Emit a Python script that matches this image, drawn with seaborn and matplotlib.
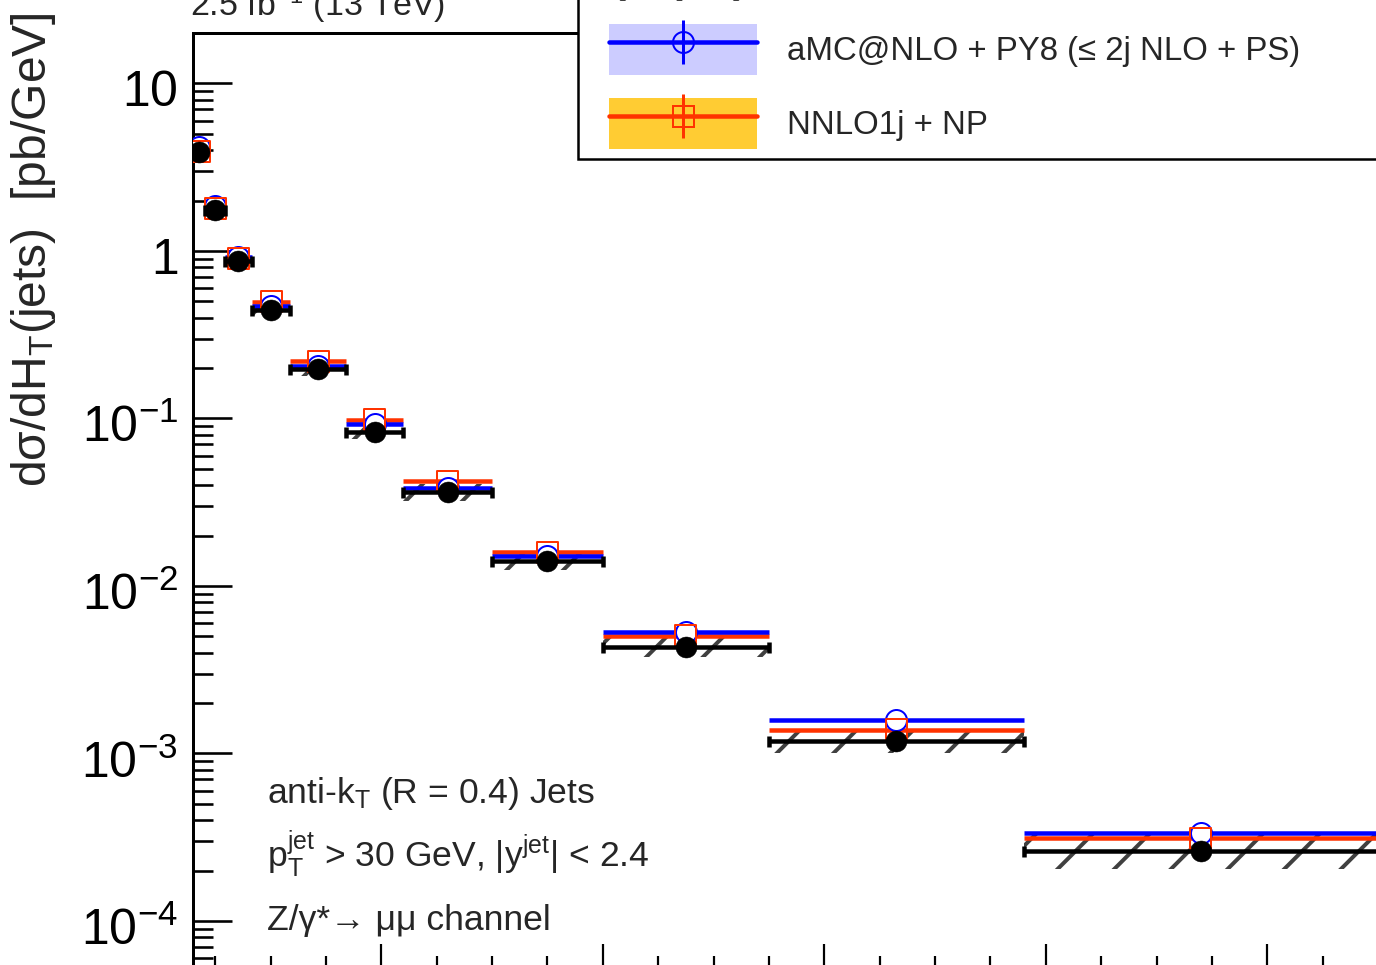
"""
CMS-style Z+jets HT differential cross section (upper panel only, cropped).
Data vs aMC@NLO + PY8 and NNLO1j + NP, log y-axis.
"""

import numpy as np
import pandas as pd
import matplotlib.pyplot as plt
import matplotlib.ticker as ticker
import matplotlib.transforms as mtransforms
from matplotlib.patches import Patch, Rectangle
from matplotlib.lines import Line2D
import seaborn as sns

# ── DATA ──────────────────────────────────────────────────
BIN_EDGES = [30, 41, 59, 83, 118, 168, 220, 300, 400, 550, 780, 1100]   # HT [GeV]

DATA_XS = [3.88, 1.745, 0.866, 0.441, 0.196, 0.0825, 0.0362, 0.0141,
           0.00432, 0.00119, 0.000260]                                   # pb/GeV
DATA_REL_UNC = [0.028, 0.028, 0.042, 0.071, 0.096, 0.101, 0.124, 0.139,
                0.147, 0.179, 0.28]
AMC_XS = [4.15, 1.844, 0.915, 0.469, 0.207, 0.0928, 0.0387, 0.0150,
          0.00528, 0.00158, 0.000335]
NNLO_XS = [3.93, 1.794, 0.902, 0.496, 0.219, 0.0980, 0.0421, 0.0159,
           0.00503, 0.00139, 0.000311]

Y_TICKS = [1e-4, 1e-3, 1e-2, 1e-1, 1, 10]
Y_TICK_LABELS = [r"$10^{-4}$", r"$10^{-3}$", r"$10^{-2}$", r"$10^{-1}$", r"$1$", r"$10$"]

LEGEND_LABELS = ["Data", "aMC@NLO + PY8 (≤ 2j NLO + PS)", "NNLO1j + NP"]
INFO_LINES = ["anti-k$_{T}$ (R = 0.4) Jets",
              "p$_{T}^{jet}$ > 30 GeV, |y$^{jet}$| < 2.4",
              "Z/γ*→ μμ channel"]
LUMI_TEXT = "2.5 fb$^{-1}$ (13 TeV)"
Y_LABEL = "dσ/dH$_{T}$(jets)  [pb/GeV]"

# ── LAYOUT / STYLE ────────────────────────────────────────
W, H, DPI = 1376, 965, 170
PX = 72.0 / DPI            # points per pixel

BLUE = "#0000ff"
BLUE_FILL = "#ccccff"
RED = "#ff3300"
ORANGE_FILL = "#ffcc33"
HATCH_GREY = "#404040"

X_MIN, X_MAX = 30, 1130
Y_MIN, Y_MAX = 5.24e-5, 20


def fx(px):
    return px / W


def fy(py):
    return 1 - py / H


def setup_style():
    sns.set_theme(style="ticks", rc={
        "axes.edgecolor": "black",
        "xtick.color": "black",
        "ytick.color": "black",
        "axes.linewidth": 3 * PX,
        "hatch.linewidth": 4 * PX,
        "mathtext.default": "regular",
    })
    plt.rcParams["font.family"] = ["Liberation Sans", "DejaVu Sans"]


def main():
    setup_style()

    edges = np.array(BIN_EDGES, dtype=float)
    centers = 0.5 * (edges[:-1] + edges[1:])
    half = 0.5 * (edges[1:] - edges[:-1])
    df = pd.DataFrame({
        "ht": centers,
        "data": DATA_XS,
        "amc": AMC_XS,
        "nnlo": NNLO_XS,
        "unc": DATA_REL_UNC,
    })
    lo = df["data"] / (1 + df["unc"])
    hi = df["data"] * (1 + df["unc"])

    fig = plt.figure(figsize=(W / DPI, H / DPI), dpi=DPI)
    ax_left, ax_top, ax_bottom = 193, 33, 968
    ax_right = ax_left + (X_MAX - X_MIN) * 1.1075
    ax = fig.add_axes([fx(ax_left), fy(ax_bottom),
                       fx(ax_right) - fx(ax_left), fy(ax_top) - fy(ax_bottom)])

    # data uncertainty band (hatched)
    ax.bar(edges[:-1], hi - lo, bottom=lo, width=edges[1:] - edges[:-1],
           align="edge", facecolor="none", edgecolor=HATCH_GREY, hatch="/",
           linewidth=0, zorder=1)

    # theory predictions
    ax.hlines(df["nnlo"], edges[:-1], edges[1:], color=RED, lw=4.5 * PX, zorder=2)
    ax.hlines(df["amc"], edges[:-1], edges[1:], color=BLUE, lw=4.5 * PX, zorder=2.5)

    # data horizontal bars with end caps
    ax.errorbar(df["ht"], df["data"], xerr=half, fmt="none", ecolor="black",
                elinewidth=4.5 * PX, capsize=5.5 * PX, capthick=4.5 * PX, zorder=5)

    mk = (21 * PX) ** 2
    sns.scatterplot(data=df, x="ht", y="amc", ax=ax, marker="o", s=mk,
                    color="white", edgecolor=BLUE, linewidth=2 * PX, zorder=3)
    sns.scatterplot(data=df, x="ht", y="nnlo", ax=ax, marker="s", s=mk,
                    color="none", edgecolor=RED, linewidth=2 * PX, zorder=4)
    sns.scatterplot(data=df, x="ht", y="data", ax=ax, marker="o", s=mk,
                    color="black", edgecolor="black", linewidth=0.5 * PX, zorder=6)

    # axes
    ax.set_yscale("log")
    ax.set_xlim(X_MIN, X_MAX)
    ax.set_ylim(Y_MIN, Y_MAX)
    ax.set_xlabel("")
    ax.set_ylabel("")
    ax.yaxis.set_major_locator(ticker.FixedLocator(Y_TICKS))
    ax.yaxis.set_major_formatter(ticker.FixedFormatter(Y_TICK_LABELS))
    ax.yaxis.set_minor_locator(ticker.LogLocator(base=10, subs=np.arange(2, 10), numticks=20))
    ax.yaxis.set_minor_formatter(ticker.NullFormatter())
    ax.xaxis.set_major_locator(ticker.MultipleLocator(200))
    ax.xaxis.set_minor_locator(ticker.MultipleLocator(50))
    ax.tick_params(axis="y", which="major", direction="in", length=39 * PX,
                   width=2.6 * PX, labelsize=50 * PX, pad=15 * PX)
    ax.tick_params(axis="y", which="minor", direction="in", length=20 * PX,
                   width=2.6 * PX)
    ax.tick_params(axis="x", which="major", direction="in", length=24 * PX,
                   width=2.2 * PX, labelbottom=False)
    ax.tick_params(axis="x", which="minor", direction="in", length=12 * PX,
                   width=2.2 * PX)
    for side in ["top", "left", "right", "bottom"]:
        ax.spines[side].set_visible(True)
        ax.spines[side].set_linewidth(3 * PX)

    # ROOT puts the labels a little lower than the tick
    shift = mtransforms.ScaledTranslation(0, -5 / DPI, fig.dpi_scale_trans)
    for lab in ax.get_yticklabels():
        lab.set_transform(lab.get_transform() + shift)

    # texts
    fig.text(fx(34), fy(12), Y_LABEL, rotation=90, ha="center", va="top",
             fontsize=48 * PX)
    fig.text(fx(190), fy(16), LUMI_TEXT, ha="left", va="baseline", fontsize=34 * PX)
    for line, base in zip(INFO_LINES, [803, 867, 930]):
        fig.text(fx(267), fy(base), line, ha="left", va="baseline", fontsize=35.5 * PX)

    # legend frame (box extends off the top/right of the canvas)
    fig.add_artist(Rectangle((fx(578), fy(159)), 1.0, 0.5, transform=fig.transFigure,
                             facecolor="white", edgecolor="black", lw=2.5 * PX, zorder=3))

    ms = 21 * PX
    bar = dict(ls="none", marker="|", markersize=44 * PX, markeredgewidth=3 * PX)
    handles = [
        (Patch(facecolor="white", edgecolor=HATCH_GREY, hatch="/", lw=0),
         Line2D([], [], color="black", lw=4.5 * PX, marker="o", ms=ms, mfc="black"),
         Line2D([], [], color="black", **bar)),
        (Patch(facecolor=BLUE_FILL, lw=0),
         Line2D([], [], color=BLUE, lw=4.5 * PX, marker="o", ms=ms, mfc="none",
                mec=BLUE, mew=2 * PX),
         Line2D([], [], color=BLUE, **bar)),
        (Patch(facecolor=ORANGE_FILL, lw=0),
         Line2D([], [], color=RED, lw=4.5 * PX, marker="s", ms=ms, mfc="none",
                mec=RED, mew=2 * PX),
         Line2D([], [], color=RED, **bar)),
    ]
    fs = 33
    fig.legend(handles, LEGEND_LABELS, loc="lower left",
               bbox_to_anchor=(fx(609), fy(149)), bbox_transform=fig.transFigure,
               frameon=False, fontsize=fs * PX, handlelength=148 / fs,
               handleheight=2.0, handletextpad=30 / fs,
               labelspacing=(74 - 51) / fs, borderpad=0, borderaxespad=0)

    fig.savefig("out.png", dpi=DPI)
    plt.close(fig)


if __name__ == "__main__":
    main()
